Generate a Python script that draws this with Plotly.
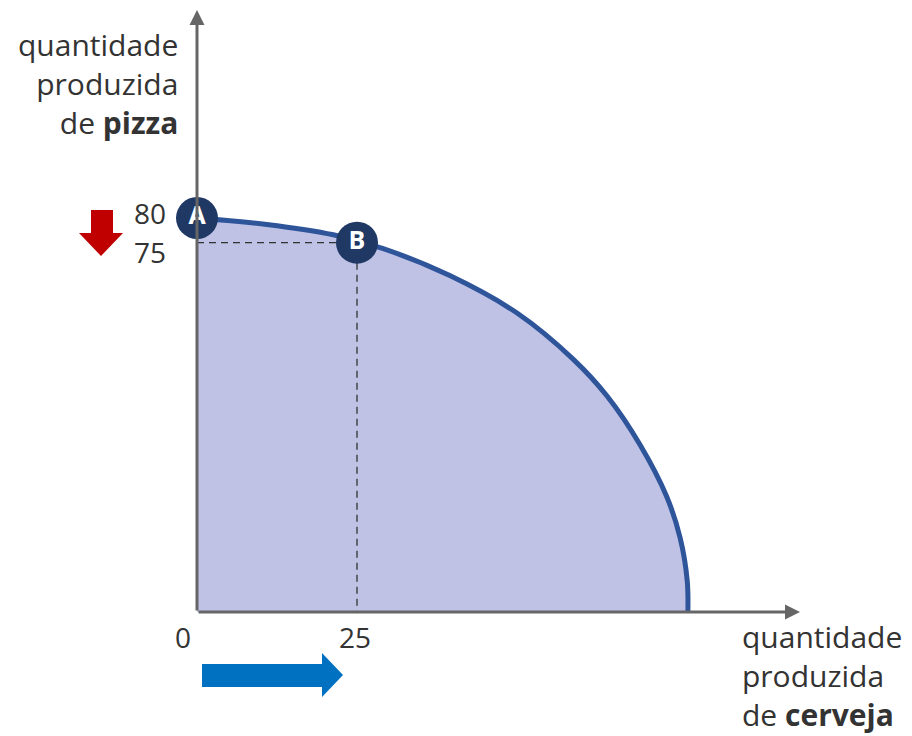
import plotly.graph_objects as go

# ---- data ----
cerveja = [0, 10.9, 21.3, 29.1, 39.5, 50, 58.8, 64.1, 69.2, 73.4, 75.5, 76.6, 76.7]
pizza = [80, 78.7, 76.6, 73.8, 68.3, 60.7, 51.3, 43.8, 34.0, 23.4, 15.0, 6.3, 0]

point_labels = ["A", "B"]
point_x = [0, 25]
point_y = [80, 75]

y_ticks = [80, 75]
x_ticks = [0, 25]

y_title = ["quantidade", "produzida", "de <b>pizza</b>"]
x_title = ["quantidade", "produzida", "de <b>cerveja</b>"]

# ---- pixel <-> data helpers (layout only); page has an 8px body margin ----
PAD = 8
W, H = 912 - 2 * PAD, 736 - PAD
OX, OY = 197 - PAD, 612 - PAD   # figure pixel of origin
SX, SY = 6.4, 4.925             # pixels per data unit


def dx(px):  # px given in page pixels
    return (px - PAD - OX) / SX


def dy(py):
    return (OY - (py - PAD)) / SY


FONT = "Open Sans"
GREY = "#666666"
TXT = "#333333"

fig = go.Figure()

# frontier with fill
fig.add_trace(go.Scatter(
    x=cerveja, y=pizza, mode="lines",
    line=dict(color="#2e559a", width=5, shape="spline", smoothing=1),
    fill="tozeroy", fillcolor="#bfc2e5", hoverinfo="skip", showlegend=False))

# dashed guides to B
fig.add_trace(go.Scatter(
    x=[0, point_x[1], point_x[1]], y=[point_y[1], point_y[1], 0], mode="lines",
    line=dict(color="#333333", width=1.3, dash="7px,5px"), hoverinfo="skip", showlegend=False))

# points A and B
fig.add_trace(go.Scatter(
    x=point_x, y=point_y, mode="markers+text", text=[f"<b>{t}</b>" for t in point_labels],
    textposition="middle center", textfont=dict(family=FONT, size=25, color="white"),
    marker=dict(size=42, color="#1f3864", line=dict(width=0)),
    hoverinfo="skip", showlegend=False))

shapes = []
annotations = []

# axes with arrows
annotations.append(dict(x=dx(800), y=0, ax=0, ay=0, xref="x", yref="y", axref="x", ayref="y",
                        showarrow=True, arrowhead=2, arrowwidth=3, arrowsize=1, arrowcolor=GREY, text=""))
annotations.append(dict(x=0, y=dy(10), ax=0, ay=0, xref="x", yref="y", axref="x", ayref="y",
                        showarrow=True, arrowhead=2, arrowwidth=3, arrowsize=1, arrowcolor=GREY, text=""))

# tick labels
TF = dict(family=FONT, size=28, color=TXT)
annotations.append(dict(x=0, y=y_ticks[0], text=str(y_ticks[0]), showarrow=False, xanchor="right",
                        xshift=-29, yshift=5, font=TF))
annotations.append(dict(x=0, y=y_ticks[1], text=str(y_ticks[1]), showarrow=False, xanchor="right",
                        xshift=-29, yshift=-9, font=TF))
annotations.append(dict(x=x_ticks[0], y=0, text=str(x_ticks[0]), showarrow=False, xanchor="center",
                        xshift=-14, yshift=-25, font=TF))
annotations.append(dict(x=x_ticks[1], y=0, text=str(x_ticks[1]), showarrow=False, xanchor="center",
                        xshift=-2, yshift=-25, font=TF))

# axis titles (multi-line annotations)
LF = dict(family=FONT, size=30, color=TXT)
annotations.append(dict(x=dx(179), y=dy(83), text="<br>".join(y_title), showarrow=False,
                        xanchor="right", yanchor="middle", align="right", borderpad=0, font=LF))
annotations.append(dict(x=dx(741), y=0, yref="paper", text="<br>".join(x_title), showarrow=False,
                        xanchor="left", yanchor="bottom", align="left", borderpad=0, font=LF))


def poly(pts):
    return "M " + " L ".join(f"{dx(a):.3f},{dy(b):.3f}" for a, b in pts) + " Z"


# red down arrow
shapes.append(dict(type="path", xref="x", yref="y", line=dict(width=0), fillcolor="#c00000",
                   path=poly([(91, 210), (113, 210), (113, 233), (123, 233), (101, 256), (79, 233), (91, 233)])))
# blue right arrow
shapes.append(dict(type="path", xref="x", yref="y", line=dict(width=0), fillcolor="#0070c0",
                   path=poly([(202, 664), (322, 664), (322, 653), (343, 675), (322, 697), (322, 687), (202, 687)])))

fig.update_layout(
    width=W, height=H, autosize=False,
    margin=dict(l=0, r=0, t=0, b=0),
    paper_bgcolor="white", plot_bgcolor="white",
    xaxis=dict(range=[(0 - OX) / SX, (W - OX) / SX], visible=False, fixedrange=True),
    yaxis=dict(range=[(OY - H) / SY, OY / SY], visible=False, fixedrange=True),
    shapes=shapes, annotations=annotations, showlegend=False,
)

fig.write_html("out.html")
